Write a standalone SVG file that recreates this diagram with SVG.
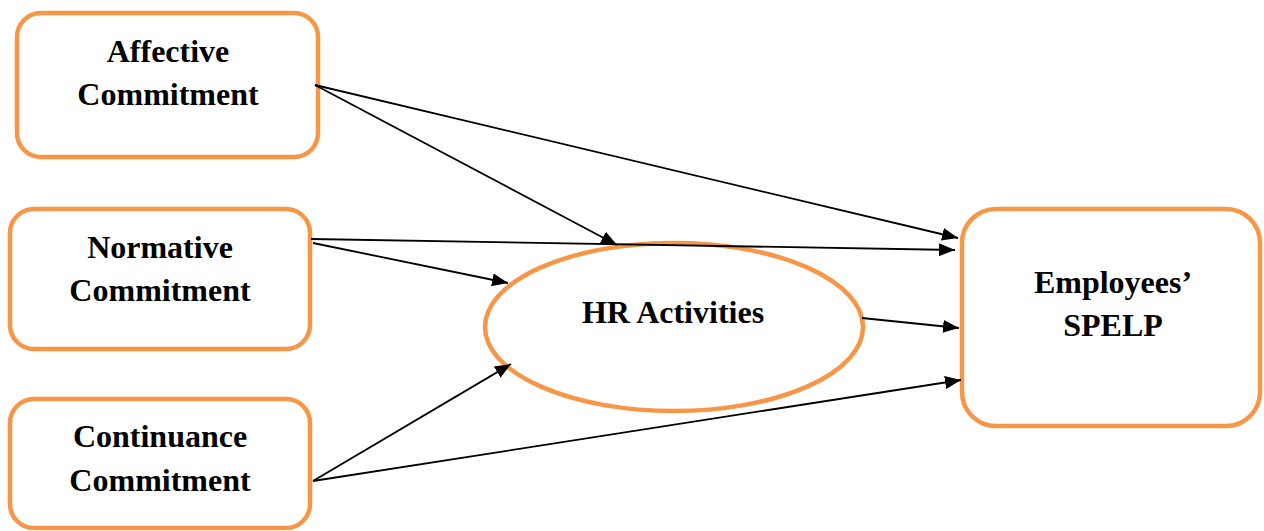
<svg xmlns="http://www.w3.org/2000/svg" width="1264" height="531" viewBox="0 0 1264 531">
<style>
.node{fill:#fff;stroke:#F79646;stroke-width:4.5}
.lbl{font-family:"Liberation Serif","Times New Roman",serif;font-weight:bold;font-size:32px;fill:#000;text-anchor:middle}
.edge{stroke:#000;stroke-width:1.8;fill:none;marker-end:url(#ah)}
</style>
<defs>
<marker id="ah" viewBox="0 0 10 10" refX="10" refY="5" markerWidth="16" markerHeight="13" markerUnits="userSpaceOnUse" orient="auto" preserveAspectRatio="none">
<path d="M0,0 L10,5 L0,10 z" fill="#000"/>
</marker>
</defs>
<rect width="1264" height="531" fill="#fff"/>
<g id="affective">
<rect class="node" x="17" y="13" width="301" height="144" rx="24"/>
<text class="lbl" x="168" y="62">Affective</text>
<text class="lbl" x="168" y="105">Commitment</text>
</g>
<g id="normative">
<rect class="node" x="10" y="209" width="300" height="140" rx="24"/>
<text class="lbl" x="160" y="258">Normative</text>
<text class="lbl" x="160" y="301">Commitment</text>
</g>
<g id="continuance">
<rect class="node" x="10" y="399" width="300" height="129" rx="24"/>
<text class="lbl" x="160" y="447">Continuance</text>
<text class="lbl" x="160" y="491">Commitment</text>
</g>
<g id="hr">
<ellipse class="node" cx="674" cy="327" rx="189" ry="84"/>
<text class="lbl" x="673" y="323">HR Activities</text>
</g>
<g id="employees">
<rect class="node" x="962" y="209" width="298" height="217" rx="34"/>
<text class="lbl" x="1113" y="293">Employees’</text>
<text class="lbl" x="1113" y="336">SPELP</text>
</g>
<g id="connectors">
<path class="edge" d="M315,85 L617,245"/>
<path class="edge" d="M315,85 L958,238"/>
<path class="edge" d="M311,239 L955,250"/>
<path class="edge" d="M313,243 L508,283"/>
<path class="edge" d="M862,318 L959,328"/>
<path class="edge" d="M313,481 L511,364"/>
<path class="edge" d="M313,481 L961,380"/>
</g>
</svg>
